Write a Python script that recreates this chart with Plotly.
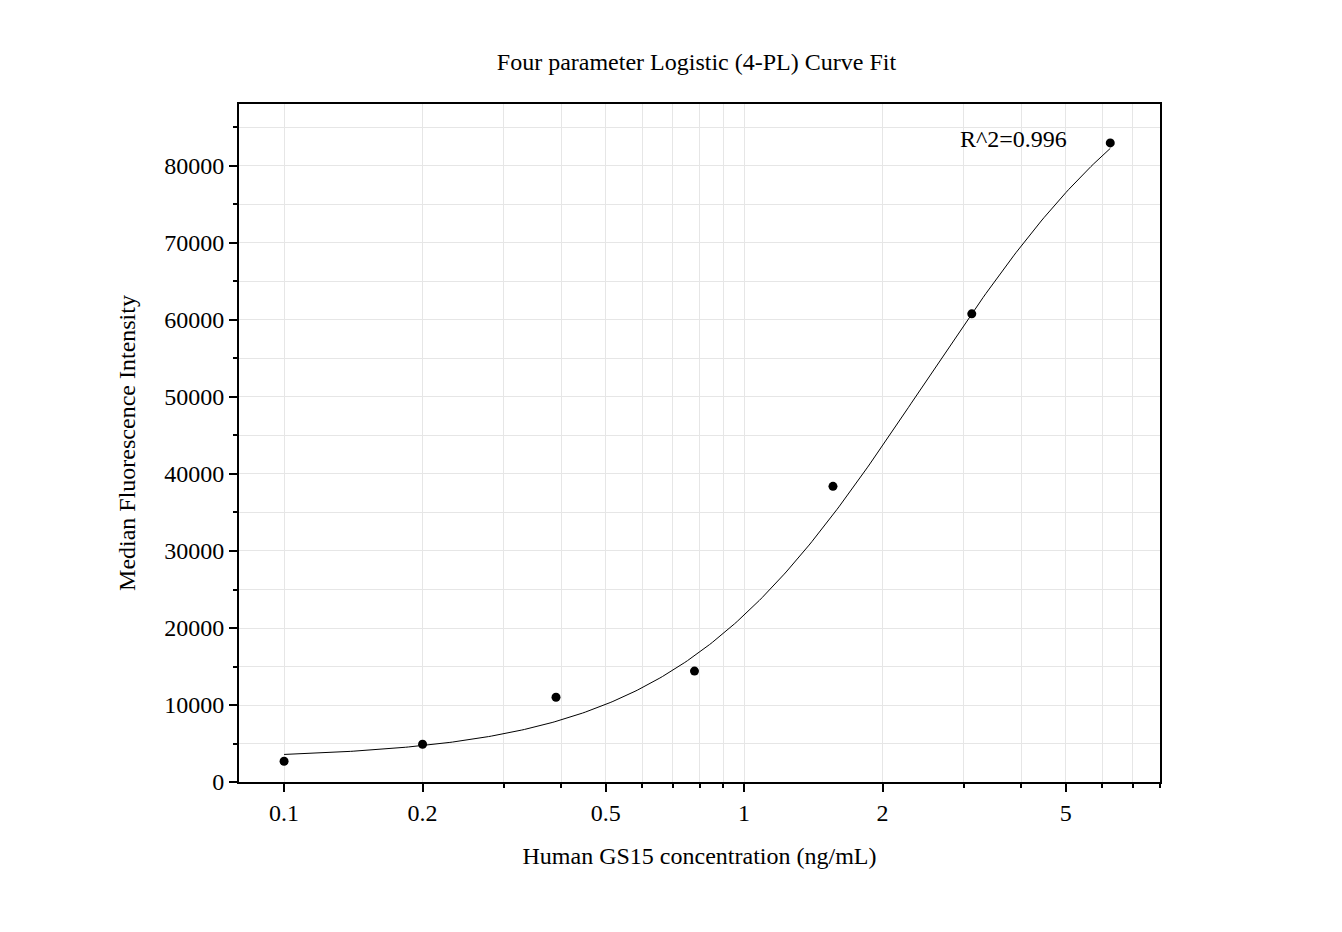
import numpy as np
import plotly.graph_objects as go

conc = [0.1, 0.2, 0.39, 0.78, 1.56, 3.125, 6.25]
mfi = [2700, 4900, 11000, 14400, 38400, 60800, 83000]

# 4-PL fit parameters (bottom, top, ec50, hill)
fit_a, fit_d, fit_c, fit_b = 3000, 100000, 2.45, 1.6
r2_text = "R^2=0.996"

xs = np.logspace(-1, np.log10(6.25), 300)
ys = fit_d + (fit_a - fit_d) / (1 + (xs / fit_c) ** fit_b)

font = dict(family="Liberation Serif", size=24, color="black")

fig = go.Figure()
fig.add_trace(go.Scatter(x=xs, y=ys, mode="lines",
                         line=dict(color="black", width=1), hoverinfo="skip"))
fig.add_trace(go.Scatter(x=conc, y=mfi, mode="markers",
                         marker=dict(color="black", size=9)))

fig.add_annotation(x=np.log10(3.85), y=81500, text=r2_text, showarrow=False,
                   xref="x", yref="y", yanchor="bottom", font=font)

axis_common = dict(
    showline=True, linecolor="black", linewidth=2, mirror=True,
    ticks="outside", ticklen=8, tickwidth=1.5, tickcolor="black",
    showgrid=True, gridcolor="#e6e6e6", gridwidth=1, zeroline=False,
    tickfont=font,
)

fig.update_xaxes(
    type="log", range=[-1.098, 0.904],
    tickvals=[0.1, 0.2, 0.5, 1, 2, 5], ticktext=["0.1", "0.2", "0.5", "1", "2", "5"],
    minor=dict(tickvals=[0.3, 0.4, 0.6, 0.7, 0.8, 0.9, 3, 4, 6, 7, 8],
               ticks="outside", ticklen=4, tickcolor="black",
               showgrid=True, gridcolor="#e6e6e6"),
    title=dict(text="Human GS15 concentration (ng/mL)", font=font, standoff=22),
    **axis_common,
)
fig.update_yaxes(
    range=[0, 88050], dtick=10000, tickformat="d",
    minor=dict(dtick=5000, ticks="outside", ticklen=4, tickcolor="black",
               showgrid=True, gridcolor="#e6e6e6"),
    title=dict(text="Median Fluorescence Intensity", font=font, standoff=22),
    **axis_common,
)

fig.update_layout(
    width=1342, height=932,
    plot_bgcolor="white", paper_bgcolor="white",
    showlegend=False,
    margin=dict(l=231, r=190, t=96, b=158),
    title=dict(text="Four parameter Logistic (4-PL) Curve Fit", x=0.513, xanchor="center",
               y=0.942, yanchor="middle", font=font),
)

fig.write_html("out.html")
